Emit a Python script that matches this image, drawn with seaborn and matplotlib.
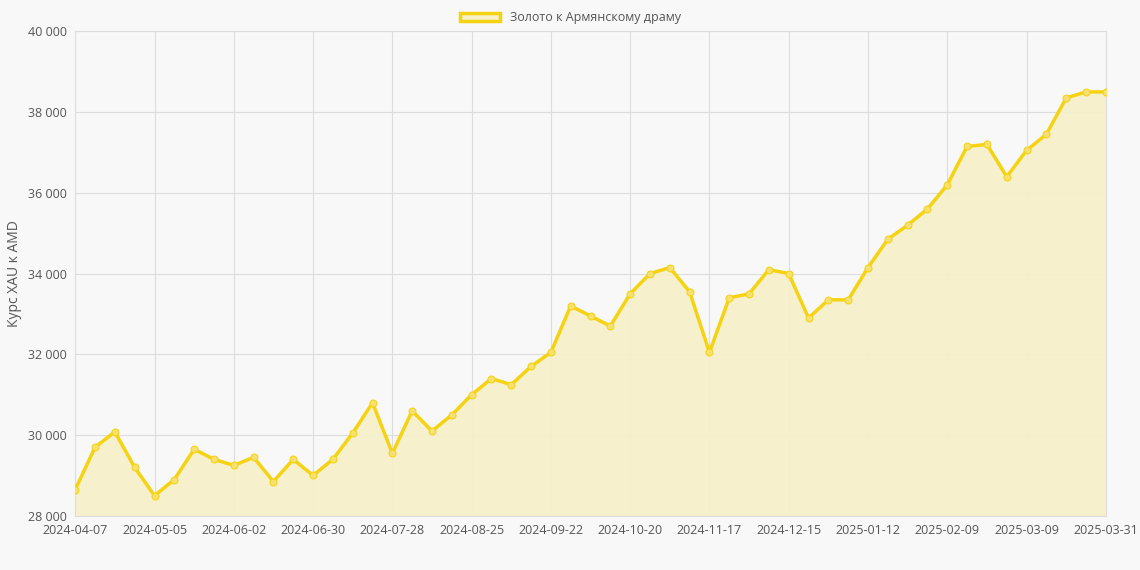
import seaborn as sns
import pandas as pd
import numpy as np
import matplotlib.pyplot as plt
from matplotlib.patches import Patch

# weekly dates, last point is 2025-03-31
dates = [d.strftime('%Y-%m-%d') for d in pd.date_range('2024-04-07', periods=52, freq='7D')] + ['2025-03-31']
prices = [28650, 29700, 30080, 29200, 28500, 28900, 29650, 29400, 29250, 29450,
          28850, 29400, 29000, 29400, 30050, 30800, 29550, 30600, 30100, 30500,
          31000, 31400, 31250, 31700, 32050, 33200, 32950, 32700, 33500, 34000,
          34150, 33550, 32050, 33400, 33500, 34100, 34000, 32900, 33350, 33350,
          34150, 34850, 35200, 35600, 36200, 37150, 37200, 36400, 37050, 37450,
          38350, 38500, 38500]
series_name = 'Золото к Армянскому драму'

df = pd.DataFrame({'i': range(len(dates)), 'date': dates, 'price': prices})

sns.set_style('white')
plt.rcParams['font.family'] = ['Open Sans', 'DejaVu Sans']
bg = '#f8f8f8'
line_c = '#f5d312'

fig, ax = plt.subplots(figsize=(11.4, 5.7), dpi=100)
fig.patch.set_facecolor(bg)
ax.set_facecolor(bg)

ax.fill_between(df['i'], df['price'], 28000, color='#f7f0c8', alpha=0.9, zorder=1)
sns.lineplot(data=df, x='i', y='price', ax=ax, color=line_c, linewidth=2.5,
             marker='o', markersize=5, markerfacecolor='#f5e070',
             markeredgecolor=line_c, zorder=3)

tick_idx = list(range(0, 49, 4)) + [52]
ax.set_xticks(tick_idx)
ax.set_xticklabels([dates[k] for k in tick_idx], fontsize=9, color='#555555')
ax.set_xlim(0, 52)
ax.set_ylim(28000, 40000)
yt = np.arange(28000, 40001, 2000)
ax.set_yticks(yt)
ax.set_yticklabels([f'{v:,}'.replace(',', ' ') for v in yt], fontsize=9, color='#555555')
ax.grid(True, color='#dddddd', linewidth=0.8)
ax.set_axisbelow(True)
for s in ax.spines.values():
    s.set_color('#dddddd')
ax.tick_params(length=0, pad=6)
ax.set_xlabel('')
ax.set_ylabel('Курс XAU к AMD', fontsize=10, color='#555555')

fig.legend(handles=[Patch(facecolor='#f7f0c8', edgecolor=line_c, linewidth=2.5, label=series_name)],
           loc='upper center', bbox_to_anchor=(0.5, 1.0), frameon=False, fontsize=9,
           handlelength=3.2, labelcolor='#555555')

fig.subplots_adjust(left=0.066, right=0.97, top=0.945, bottom=0.095)
fig.savefig('out.png', dpi=100, facecolor=bg)
